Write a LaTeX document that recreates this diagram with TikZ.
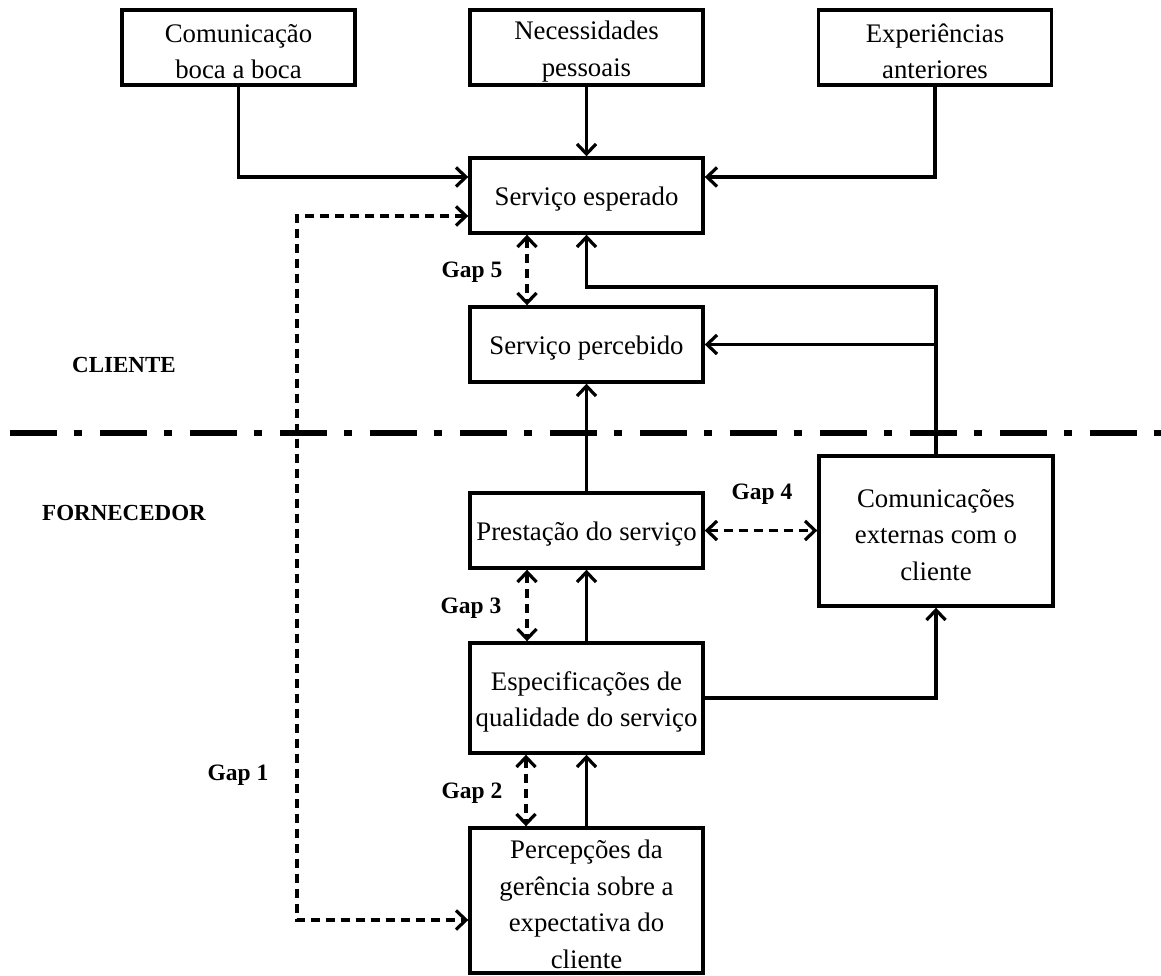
\documentclass[tikz,border=0pt]{standalone}
\usepackage{fontspec}
\setmainfont{Liberation Serif}
\usetikzlibrary{arrows.meta}
\begin{document}
\begin{tikzpicture}[x=1pt,y=-1pt,
  txt/.style={align=center, inner sep=0pt, font=\fontsize{26.8}{36.5}\selectfont},
  box/.style={draw, line width=3.4pt, fill=white, inner sep=0pt, minimum width=233pt,
    label={[txt, yshift=-4pt]center:#1}},
  tip/.tip={Straight Barb[length=10pt,width=19pt,line width=3.2pt]},
  conn/.style={line width=3.3pt, -tip},
  gaparrow/.style={line width=3.3pt, dash pattern=on 9pt off 6pt, tip-tip},
  gaplabel/.style={font=\fontsize{23.5}{28}\selectfont\bfseries, inner sep=0pt},
  side/.style={font=\fontsize{23}{28}\selectfont\bfseries, inner sep=0pt},
  divider/.style={line width=5.5pt, dash pattern=on 47pt off 17pt on 8pt off 18pt}]

\fill[white] (0,0) rectangle (1161,976);
\useasboundingbox (0,0) rectangle (1161,976);

% boundary between customer and supplier
\coordinate (divL) at (10,433);
\coordinate (divR) at (1161,433);
\draw[divider] (divL) -- (divR);

% upper inputs
\node[box={Comunicação\\boca a boca}, minimum height=75pt] (com) at (238.5,47.5) {};
\node[box={Necessidades\\pessoais}, minimum height=75pt] (nec) at (586.5,47.5) {};
\node[box={Experiências\\anteriores}, minimum height=75pt] (exp) at (935,47.5) {};

% customer side
\node[box={Serviço esperado}, minimum height=75pt] (esp) at (586.5,195.5) {};
\node[box={Serviço percebido}, minimum height=75pt] (perc) at (586.5,344.5) {};

% supplier side
\node[box={Prestação do serviço}, minimum height=75pt] (prest) at (586.5,530.5) {};
\node[box={Especificações de\\qualidade do serviço}, minimum height=110pt] (espec) at (586.5,698) {};
\node[box={Percepções da\\gerência sobre a\\expectativa do\\cliente}, minimum height=145pt] (pger) at (586.5,900.5) {};
\node[box={Comunicações\\externas com o\\cliente}, minimum height=150pt, minimum width=234pt] (cext) at (936,531) {};

% side labels
\node[side] (cli) at (124,365) {CLIENTE};
\node[side] (forn) at (124,513) {FORNECEDOR};

% gap labels
\node[gaplabel] (g5) at (472,272) {Gap 5};
\node[gaplabel] (g4) at (762,494) {Gap 4};
\node[gaplabel] (g3) at (471,608) {Gap 3};
\node[gaplabel] (g2) at (472,793) {Gap 2};
\node[gaplabel] (g1) at (238,775) {Gap 1};

% inputs to the expected service
\draw[conn] (com.south) |- (esp.west |- 0,177);
\draw[conn] (nec.south) -- (esp.north);
\draw[conn] (exp.south) |- (esp.east |- 0,177);

% external communications feed both customer boxes
\draw[conn] (cext.north) |- (esp.south |- 0,287) -- (esp.south);
\draw[conn] (cext.north |- perc.east) -- (perc.east);

% supplier chain
\draw[conn] (prest.north) -- (perc.south);
\draw[conn] (espec.north) -- (prest.south);
\draw[conn] (pger.north) -- (espec.south);
\draw[conn] (espec.east) -| (cext.south);

% gaps
\draw[gaparrow] (esp.south -| 527,0) -- (perc.north -| 527,0);
\draw[gaparrow] (prest.south -| 527,0) -- (espec.north -| 527,0);
\draw[gaparrow] (espec.south -| 526,0) -- (pger.north -| 526,0);
\draw[gaparrow] (prest.east) -- (cext.west |- prest.east);
\draw[gaparrow] (esp.west |- 0,216) -| (297,920) -- (pger.west |- 0,920);

\end{tikzpicture}
\end{document}
